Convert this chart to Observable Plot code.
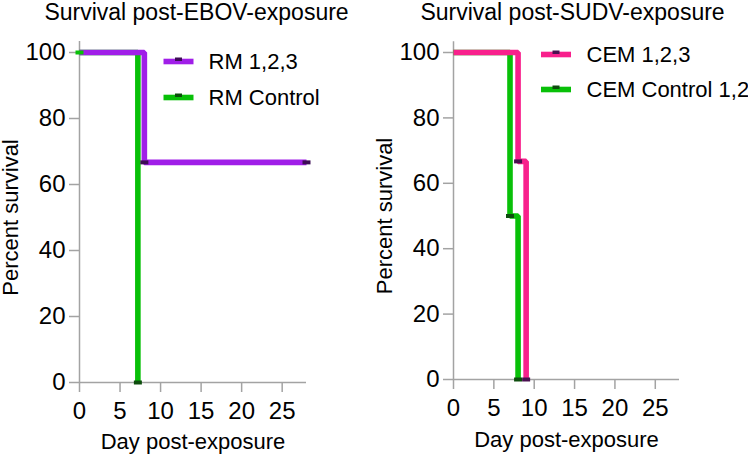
<!DOCTYPE html>
<html>
<head>
<meta charset="utf-8">
<script src="https://cdn.jsdelivr.net/npm/d3@7"></script>
<script src="https://cdn.jsdelivr.net/npm/@observablehq/plot@0.6"></script>
<style>
  html, body { margin: 0; padding: 0; background: #fff; }
  #wrap { display: flex; width: 748px; height: 454px; }
  #wrap svg { overflow: visible; }
  #wrap g[aria-label$="tick label"], #wrap g[aria-label$="tick label"] text { font-size: 24px !important; }
</style>
</head>
<body>
<div id="wrap"></div>
<script>
// ---------- data ----------
const xTicks = [0, 5, 10, 15, 20, 25];
const yTicks = [0, 20, 40, 60, 80, 100];

// Left panel: EBOV
const ebovTitle = "Survival post-EBOV-exposure";
const rmTreatedName = "RM 1,2,3";
const rmTreatedDays = [0, 8, 28];
const rmTreatedSurvival = [100, 66.7, 66.7];
const rmTreatedMarkDays = [8, 28];
const rmTreatedMarkSurvival = [66.7, 66.7];
const rmControlName = "RM Control";
const rmControlDays = [0, 7.2];
const rmControlSurvival = [100, 0];
const rmControlMarkDays = [0, 7.2];
const rmControlMarkSurvival = [100, 0];

// Right panel: SUDV
const sudvTitle = "Survival post-SUDV-exposure";
const cemTreatedName = "CEM 1,2,3";
const cemTreatedDays = [0, 8, 9];
const cemTreatedSurvival = [100, 66.7, 0];
const cemTreatedMarkDays = [8, 9];
const cemTreatedMarkSurvival = [66.7, 0];
const cemControlName = "CEM Control 1,2";
const cemControlDays = [0, 7, 8];
const cemControlSurvival = [100, 50, 0];
const cemControlMarkDays = [7, 8];
const cemControlMarkSurvival = [50, 0];

const xLabel = "Day post-exposure";
const yLabel = "Percent survival";

// ---------- styles ----------
const FONT = "'Liberation Sans', Arial, Helvetica, sans-serif";
const FS = 22;
const TICK_FS = 24;
const AXIS = "#a3a3a3";
const PURPLE = "#a01ee8", PURPLE_D = "#3d0d55";
const GREEN = "#08c008", GREEN_D = "#0d4d0d";
const PINK = "#f8208c", PINK_D = "#4a1050";

const zip = (xs, ys) => xs.map((x, i) => ({x, y: ys[i]}));

const markSymbol = {draw(ctx) { ctx.rect(-4, -2, 8, 4); }};
const swatchSymbol = {draw(ctx) { ctx.rect(-15, -2.8, 30, 5.6); }};
const legendMarkSymbol = {draw(ctx) { ctx.rect(-3.5, -4, 7, 3.5); }};

function panel({title, series, legend, margins, titleDx, xLabelDy}) {
  const marks = [
    // axis lines
    Plot.ruleY([0], {x1: 0, x2: 28, stroke: AXIS, strokeWidth: 1.5}),
    Plot.ruleX([0], {y1: 0, y2: 103.3, stroke: AXIS, strokeWidth: 1.5}),
    Plot.axisX({ticks: xTicks, tickSize: 10, tickPadding: 9, stroke: AXIS, strokeWidth: 1.5,
                fill: "black", fontSize: TICK_FS, label: null}),
    Plot.axisY({ticks: yTicks, tickSize: 10, tickPadding: 4, stroke: AXIS, strokeWidth: 1.5,
                fill: "black", fontSize: TICK_FS, label: null}),
  ];
  for (const s of series) {
    marks.push(Plot.line(zip(s.days, s.surv), {
      x: "x", y: "y", curve: "step-after", stroke: s.color, strokeWidth: 5.6,
      strokeLinejoin: "miter", strokeLinecap: "butt"
    }));
  }
  for (const s of series) {
    marks.push(Plot.dot(zip(s.markDays, s.markSurv), {
      x: "x", y: "y", symbol: markSymbol, fill: (d) => (d.x === 0 ? s.color : s.dark), stroke: null, r: 3
    }));
  }
  // legend
  legend.items.forEach((s, i) => {
    const dy = legend.dy0 + i * legend.step;
    marks.push(Plot.dot([s], {frameAnchor: "top-left", dx: legend.swatchDx, dy, symbol: swatchSymbol, fill: s.color, r: 3}));
    marks.push(Plot.dot([s], {frameAnchor: "top-left", dx: legend.swatchDx, dy, symbol: legendMarkSymbol, fill: s.dark, r: 3}));
    marks.push(Plot.text([s.name], {frameAnchor: "top-left", dx: legend.textDx, dy, text: (d) => d,
      textAnchor: "start", lineAnchor: "middle", fontSize: FS, fill: "black"}));
  });
  // titles and labels
  marks.push(Plot.text([title], {frameAnchor: "top", dx: titleDx, dy: -33, text: (d) => d,
    textAnchor: "middle", lineAnchor: "bottom", fontSize: 23, fill: "black"}));
  marks.push(Plot.text([xLabel], {frameAnchor: "bottom", dy: xLabelDy, text: (d) => d,
    textAnchor: "middle", lineAnchor: "bottom", fontSize: FS, fill: "black"}));
  marks.push(Plot.text([yLabel], {frameAnchor: "left", dx: -62, rotate: -90, text: (d) => d,
    textAnchor: "middle", lineAnchor: "bottom", fontSize: FS, fill: "black"}));

  return Plot.plot({
    width: 374, height: 454,
    marginLeft: margins[3], marginRight: margins[1], marginTop: margins[0], marginBottom: margins[2],
    x: {domain: [0, 28]},
    y: {domain: [0, 100]},
    style: {fontFamily: FONT, fontSize: FS + "px", background: "white", color: "black", overflow: "visible"},
    marks
  });
}

const rmTreated = {name: rmTreatedName, days: rmTreatedDays, surv: rmTreatedSurvival,
  markDays: rmTreatedMarkDays, markSurv: rmTreatedMarkSurvival, color: PURPLE, dark: PURPLE_D};
const rmControl = {name: rmControlName, days: rmControlDays, surv: rmControlSurvival,
  markDays: rmControlMarkDays, markSurv: rmControlMarkSurvival, color: GREEN, dark: GREEN_D};
const cemTreated = {name: cemTreatedName, days: cemTreatedDays, surv: cemTreatedSurvival,
  markDays: cemTreatedMarkDays, markSurv: cemTreatedMarkSurvival, color: PINK, dark: PINK_D};
const cemControl = {name: cemControlName, days: cemControlDays, surv: cemControlSurvival,
  markDays: cemControlMarkDays, markSurv: cemControlMarkSurvival, color: GREEN, dark: GREEN_D};

const wrap = document.getElementById("wrap");
wrap.appendChild(panel({
  title: ebovTitle,
  series: [rmControl, rmTreated],
  legend: {items: [rmTreated, rmControl], swatchDx: 99, textDx: 129, dy0: 9, step: 36},
  margins: [52, 68, 72, 79],
  titleDx: 3.5,
  xLabelDy: 66
}));
wrap.appendChild(panel({
  title: sudvTitle,
  series: [cemControl, cemTreated],
  legend: {items: [cemTreated, cemControl], swatchDx: 102.5, textDx: 133, dy0: 2, step: 35},
  margins: [52, 69, 75, 79],
  titleDx: 6,
  xLabelDy: 67
}));
</script>
</body>
</html>
